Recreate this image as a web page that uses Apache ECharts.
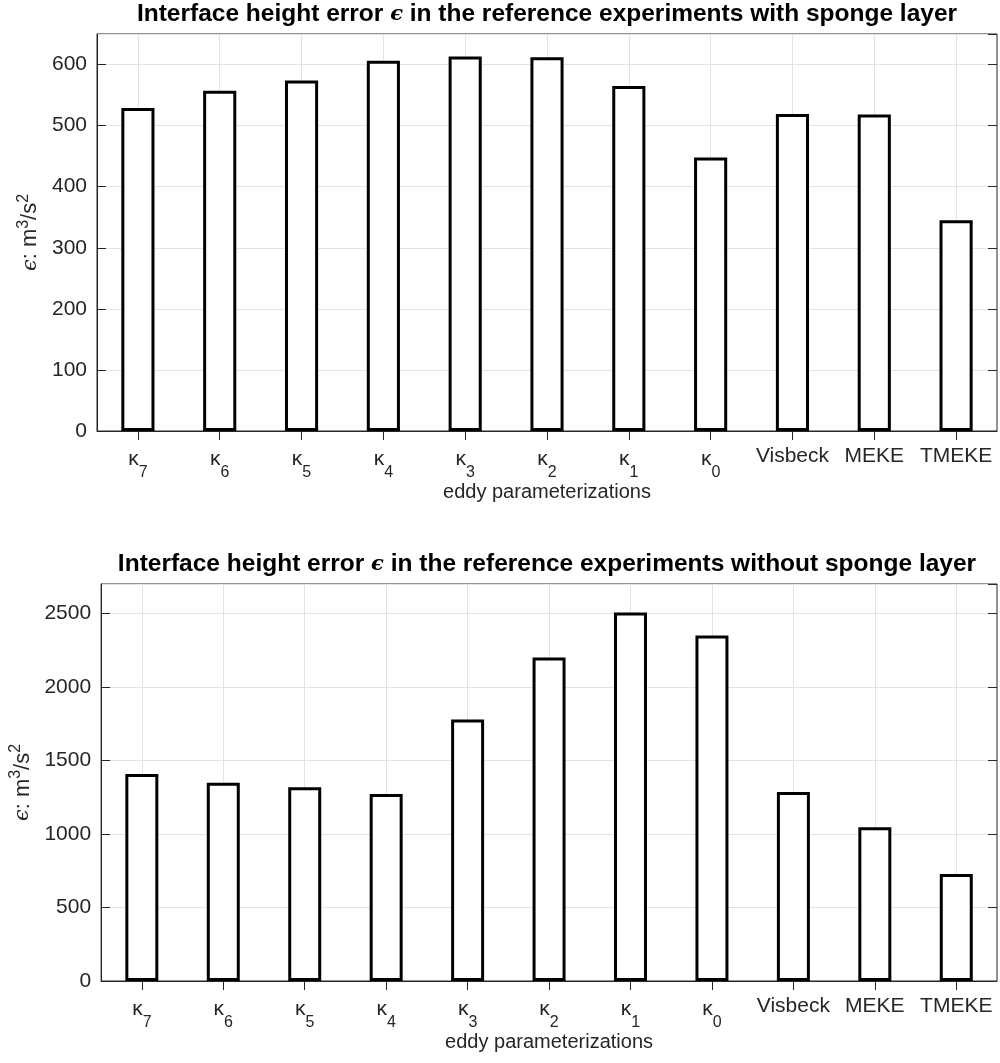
<!DOCTYPE html>
<html>
<head>
<meta charset="utf-8">
<script src="https://cdn.jsdelivr.net/npm/echarts@6/dist/echarts.min.js"></script>
<style>
  html, body { margin: 0; padding: 0; background: #ffffff; }
  #chart { width: 1000px; height: 1063px; }
</style>
</head>
<body>
<div id="chart"></div>
<script>
// Eddy parameterizations on the x axis (κ labels get a subscript index)
const categories = ['κ7', 'κ6', 'κ5', 'κ4', 'κ3', 'κ2', 'κ1', 'κ0', 'Visbeck', 'MEKE', 'TMEKE'];

// Interface height error ϵ (m^3/s^2)
const errorWithSponge    = [529, 557, 574, 606, 613, 612, 565, 448, 519, 518, 345];
const errorWithoutSponge = [1407, 1348, 1317, 1271, 1778, 2200, 2506, 2350, 1285, 1045, 728];

const titleWithSponge    = 'Interface height error {e|ϵ} in the reference experiments with sponge layer';
const titleWithoutSponge = 'Interface height error {e|ϵ} in the reference experiments without sponge layer';
const xAxisName = 'eddy parameterizations';
const yAxisName = '{e|ϵ}: m{p|3}/s{p|2}';

const axisColor = '#262626';
const gridColor = '#e3e3e3';
const fontFamily = '"Liberation Sans", Arial, Helvetica, sans-serif';

function categoryLabel(v) {
  if (v.charAt(0) === 'κ') {
    return '{k|κ}{s|' + v.slice(1) + '}';
  }
  return '{n|' + v + '}';
}

const labelRich = {
  k: { fontSize: 21, fontFamily: fontFamily, color: axisColor, padding: [0, 0, 6, 0] },
  s: { fontSize: 16, fontFamily: fontFamily, color: axisColor, padding: [22, 0, 0, 0] },
  n: { fontSize: 21, fontFamily: fontFamily, color: axisColor, padding: [3, 0, 15, 0] }
};

const grids = [
  { left: 97, top: 34, width: 900, height: 397 },
  { left: 97, top: 584, width: 900, height: 397 }
];

const yRanges = [
  { max: 650, interval: 100 },
  { max: 2700, interval: 500 }
];

function bottomXAxis(gridIndex) {
  return {
    type: 'category',
    gridIndex: gridIndex,
    data: categories,
    boundaryGap: true,
    axisLine: { show: true, lineStyle: { color: axisColor, width: 1 } },
    axisTick: { show: true, inside: true, length: 9, alignWithLabel: true, lineStyle: { color: axisColor } },
    axisLabel: {
      margin: 12,
      interval: 0,
      formatter: categoryLabel,
      rich: labelRich
    },
    splitLine: { show: true, alignWithLabel: true, lineStyle: { color: gridColor, width: 1 } },
    name: xAxisName,
    nameLocation: 'middle',
    nameGap: 51,
    nameTextStyle: { fontSize: 20, fontFamily: fontFamily, color: axisColor }
  };
}

function topXAxis(gridIndex) {
  return {
    type: 'category',
    gridIndex: gridIndex,
    position: 'top',
    data: categories,
    boundaryGap: true,
    axisLine: { show: false },
    axisTick: { show: true, inside: true, length: 9, alignWithLabel: true, lineStyle: { color: axisColor } },
    axisLabel: { show: false },
    splitLine: { show: false }
  };
}

function leftYAxis(gridIndex) {
  const r = yRanges[gridIndex];
  return {
    type: 'value',
    gridIndex: gridIndex,
    min: 0,
    max: r.max,
    interval: r.interval,
    axisLine: { show: true, lineStyle: { color: axisColor, width: 1 } },
    axisTick: { show: true, inside: true, length: 9, lineStyle: { color: axisColor } },
    axisLabel: {
      fontSize: 21, fontFamily: fontFamily, color: axisColor, margin: 10, showMaxLabel: false,
      formatter: v => String(v)
    },
    splitLine: { show: true, lineStyle: { color: gridColor, width: 1 } },
    name: yAxisName,
    nameLocation: 'middle',
    nameGap: 50,
    nameTextStyle: {
      fontSize: 22, fontFamily: fontFamily, color: axisColor,
      rich: {
        e: { fontFamily: '"DejaVu Serif", serif', fontStyle: 'italic', fontSize: 21, color: axisColor },
        p: { fontFamily: fontFamily, fontSize: 16, color: axisColor, padding: [0, 0, 13, 0] }
      }
    }
  };
}

function rightYAxis(gridIndex) {
  const r = yRanges[gridIndex];
  return {
    type: 'value',
    gridIndex: gridIndex,
    position: 'right',
    min: 0,
    max: r.max,
    interval: r.interval,
    axisLine: { show: false },
    axisTick: { show: true, inside: true, length: 9, lineStyle: { color: axisColor } },
    axisLabel: { show: false },
    splitLine: { show: false }
  };
}

function barSeries(idx, values) {
  return {
    type: 'bar',
    xAxisIndex: idx * 2,
    yAxisIndex: idx * 2,
    data: values,
    barWidth: '40.5%',
    silent: true,
    itemStyle: { color: '#ffffff', borderColor: '#000000', borderWidth: 3 }
  };
}

// Panel titles, centred over each plot area
function panelTitle(text, grid, y) {
  return {
    type: 'text',
    x: grid.left + grid.width / 2,
    y: y,
    silent: true,
    style: {
      text: text,
      align: 'center',
      verticalAlign: 'top',
      fill: '#000000',
      fontSize: 24.5,
      fontWeight: 'bold',
      fontFamily: fontFamily,
      rich: {
        e: { fontFamily: '"DejaVu Serif", serif', fontStyle: 'italic', fontWeight: 'bold', fontSize: 21, fill: '#000000' }
      }
    }
  };
}

const chart = echarts.init(document.getElementById('chart'), null, { renderer: 'canvas' });

chart.setOption({
  backgroundColor: '#ffffff',
  animation: false,
  textStyle: { fontFamily: fontFamily },
  graphic: [
    panelTitle(titleWithSponge, grids[0], 2),
    panelTitle(titleWithoutSponge, grids[1], 552)
  ],
  grid: grids.map(g => Object.assign({ show: true, borderColor: axisColor, borderWidth: 1, backgroundColor: 'transparent' }, g)),
  xAxis: [bottomXAxis(0), topXAxis(0), bottomXAxis(1), topXAxis(1)],
  yAxis: [leftYAxis(0), rightYAxis(0), leftYAxis(1), rightYAxis(1)],
  series: [barSeries(0, errorWithSponge), barSeries(1, errorWithoutSponge)]
});
</script>
</body>
</html>
